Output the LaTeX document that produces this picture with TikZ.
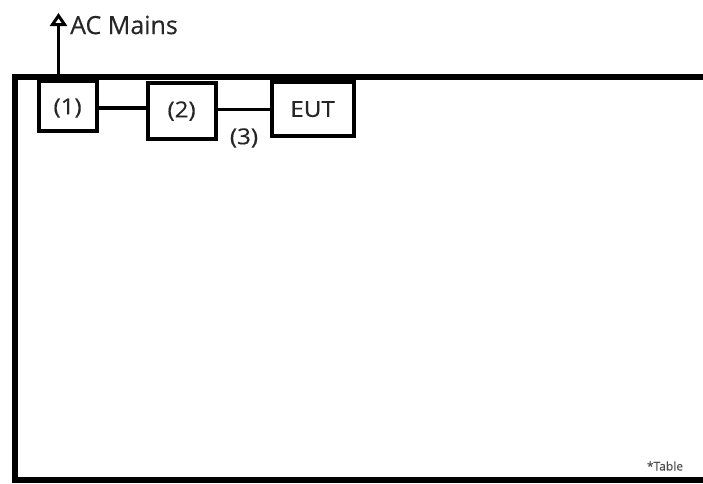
\documentclass[tikz,border=0pt]{standalone}
\usepackage{fontspec}
\setmainfont{Open Sans}[FakeBold=0.3]
\usetikzlibrary{arrows.meta}
\begin{document}
\begin{tikzpicture}[x=1pt,y=-1pt,
  boxst/.style={draw=black,line width=4.2pt,inner sep=0pt,anchor=north west},
  lbl/.style={font=\fontsize{22}{24}\selectfont\addfontfeature{FakeStretch=1.1},inner sep=0pt,text=black!85},
  wire/.style={line width=3.5pt}]
\useasboundingbox (0,0) rectangle (703,483);
% table
\draw[line width=6pt] (703,76.5) -- (14.5,76.5) -- (14.5,480) -- (703,480);
% boxes
\node[boxst, minimum width=58pt, minimum height=50pt] (b1) at (36.5,79) {};
\node[lbl] at ([yshift=-2pt]b1.center) {(1)};
\node[boxst, minimum width=68pt, minimum height=56pt] (b2) at (145.5,81) {};
\node[lbl] at (b2.center) {(2)};
\node[boxst, minimum width=82pt, minimum height=54pt] (eut) at (269.5,80) {};
\node[lbl] at (eut.center) {EUT};
\draw[wire] (b1.east |- 0,108) -- (b2.west |- 0,108);
\draw[wire] (b2.east |- 0,109.5) -- (eut.west |- 0,109.5);
\node[lbl] (l3) at (244,138) {(3)};
% AC mains
\coordinate (m0) at (58.5,74);
\coordinate (m1) at (58.5,13);
\draw[line width=3pt,-{Triangle[open,length=13pt,width=17pt]}] (m0) -- (m1);
\node[anchor=west,inner sep=0pt,font=\fontsize{25}{28}\selectfont,text=black!85] (acm) at (70,25) {AC Mains};
\node[inner sep=0pt,font=\fontsize{12}{13}\selectfont,text=black!70] (tbl) at (665,466) {*Table};
\end{tikzpicture}
\end{document}
